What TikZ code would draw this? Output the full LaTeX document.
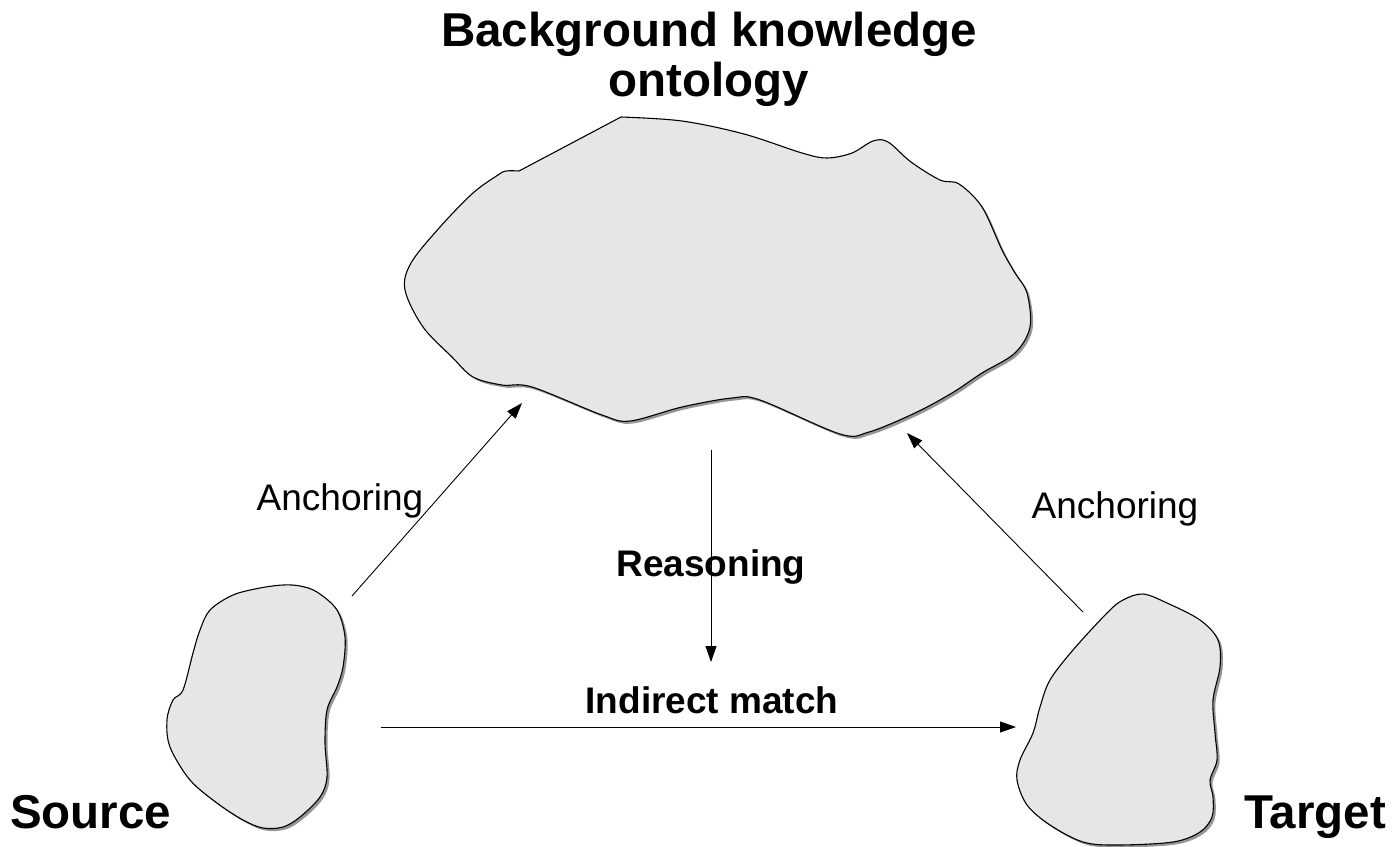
\documentclass[tikz,border=0pt]{standalone}
\usepackage{fontspec}
\setmainfont{Liberation Sans}
\usetikzlibrary{arrows.meta}
\tikzset{
  blob/.style={fill={rgb,255:red,230;green,230;blue,230}, draw=black, line width=1.1pt, line join=round},
  blobshadow/.style={fill={rgb,255:red,150;green,150;blue,150}, draw=none},
  conn/.style={draw=black, line width=0.9pt, -{Triangle[length=16pt,width=11pt]}},
  bigbold/.style={font=\fontsize{47.5}{50}\selectfont\bfseries, inner sep=0pt, anchor=base},
  lab/.style={font=\fontsize{37}{40}\selectfont, inner sep=0pt, anchor=base},
  labb/.style={font=\fontsize{37}{40}\selectfont\bfseries, inner sep=0pt, anchor=base},
}
\begin{document}
\begin{tikzpicture}[x=1pt,y=-1pt]
\useasboundingbox (0,0) rectangle (1392,846);
% cloud (background knowledge)
\def\cloudpath{plot[smooth, tension=0.55] coordinates {(621,117) (682,121) (744,134) (802,153) (827,158) (852,153) (873,141) (888,142) (911,162) (940,180) (959,184) (982,207) (1002,250) (1015,273) (1027,293) (1030,327) (1015,353) (982,373) (952,393) (915,413) (869,432) (840,434) (760,400) (732,398) (682,407) (630,421) (602,415) (532,387) (502,385) (473,377) (452,357) (423,327) (405,290) (411,263) (440,227) (473,193) (498,175) (506,171) (519,171)} -- cycle}
\def\sourcepath{plot[smooth cycle, tension=0.55] coordinates {(283,585) (300,586) (317,592) (337,610) (345,637) (343,667) (337,687) (327,710) (325,743) (327,777) (320,797) (300,817) (283,827) (263,828) (243,820) (217,803) (190,780) (170,747) (167,720) (173,700) (183,690) (193,653) (200,630) (210,610) (233,595) (260,588)}}
\def\targetpath{plot[smooth cycle, tension=0.55] coordinates {(1143,594) (1167,603) (1200,620) (1218,640) (1220,667) (1213,700) (1215,733) (1217,760) (1210,780) (1213,797) (1212,817) (1200,832) (1173,842) (1117,845) (1083,842) (1050,825) (1027,805) (1017,780) (1020,760) (1033,733) (1040,707) (1050,680) (1073,650) (1107,613) (1123,600)}}
\path[blobshadow, shift={(2.5,2.5)}] \cloudpath;
\path[blob] \cloudpath;
\path[blobshadow, shift={(2.5,2.5)}] \sourcepath;
\path[blob] \sourcepath;
\path[blobshadow, shift={(2.5,2.5)}] \targetpath;
\path[blob] \targetpath;

% titles
\node[bigbold] (bk) at (709,46) {Background knowledge};
\node[bigbold] (onto) at (709,96) {ontology};
\node[bigbold, anchor=base west] (src) at (10,828) {Source};
\node[bigbold, anchor=base east] (tgt) at (1386,828) {Target};

% connector end points
\coordinate (a1s) at (352,596);
\coordinate (a1e) at (522,403);
\coordinate (a2s) at (1083,612);
\coordinate (a2e) at (907,433);
\coordinate (rs) at (711,450);
\coordinate (re) at (711,662);
\coordinate (ms) at (381,727);
\coordinate (me) at (1016,727);

\draw[conn] (a1s) -- (a1e);
\draw[conn] (a2s) -- (a2e);
\draw[conn] (rs) -- (re);
\draw[conn] (ms) -- (me);

\node[lab] (l1) at (340,510) {Anchoring};
\node[lab] (l2) at (1115,518) {Anchoring};
\node[labb] (l3) at (711,576) {Reasoning};
\node[labb] (l4) at (712,713) {Indirect match};
\end{tikzpicture}
\end{document}
